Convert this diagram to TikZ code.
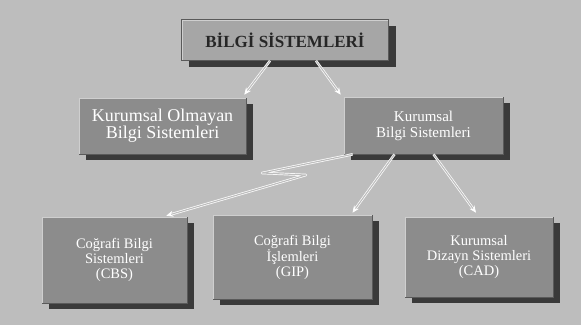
\documentclass[tikz,border=0pt]{standalone}
\usepackage{fontspec}
\setmainfont{Liberation Serif}
\usetikzlibrary{arrows.meta,shadows,calc}
\definecolor{bgc}{HTML}{BDBDBD}
\definecolor{boxc}{HTML}{8C8C8C}
\definecolor{topc}{HTML}{A6A6A6}
\definecolor{shadc}{HTML}{3A3A3A}
\definecolor{edgec}{HTML}{5A5A5A}
\definecolor{litc}{HTML}{CFCFCF}
\definecolor{titlec}{HTML}{262626}

\begin{document}
\begin{tikzpicture}[x=1pt,y=-1pt,
  panel/.style={rectangle, fill=boxc, draw=edgec, line width=0.6pt,
    text=white, align=center, inner sep=0pt,
    general shadow={shadow xshift=7pt, shadow yshift=-6pt, fill=shadc}},
  headpanel/.style={panel, fill=topc, text=titlec,
    font=\fontsize{17}{18}\selectfont\bfseries},
  midtext/.style={font=\fontsize{15}{16}\selectfont},
  lowtext/.style={font=\fontsize{14.5}{15}\selectfont},
  link/.style={draw=white, line width=0.7pt, double=bgc, double distance=1.1pt,
    line join=round, -{Stealth[length=7pt,width=6pt,fill=white]}},
  bevel/.style={draw=litc, line width=0.8pt}
]
% page and halftone background
\fill[white] (0,0) rectangle (586,330);
\fill[bgc] (0,0) rectangle (581,325);
\useasboundingbox (0,0) rectangle (586,330);

% boxes
\node[headpanel, minimum width=207pt, minimum height=41pt] (top) at (285,40)
  {BİLGİ SİSTEMLERİ};
\node[panel, minimum width=167pt, minimum height=56pt,
  font=\fontsize{18}{17}\selectfont] (olm) at (162.5,126)
  {Kurumsal Olmayan\\Bilgi Sistemleri};
\node[panel, midtext, minimum width=159pt, minimum height=57pt] (kb) at (423.5,125.5)
  {Kurumsal\\Bilgi Sistemleri};
\node[panel, lowtext, minimum width=145pt, minimum height=86pt] (cbs) at (114.5,260)
  {Coğrafi Bilgi\\Sistemleri\\(CBS)};
\node[panel, lowtext, minimum width=159pt, minimum height=84pt] (gip) at (292.5,257)
  {Coğrafi Bilgi\\İşlemleri\\(GIP)};
\node[panel, lowtext, minimum width=148pt, minimum height=80pt] (cad) at (479,257)
  {Kurumsal\\Dizayn Sistemleri\\(CAD)};

% light upper-left edge of each box
\foreach \n in {top,olm,kb,cbs,gip,cad}
  \draw[bevel] ([shift={(0.8pt,0.8pt)}]\n.south west) -- ([shift={(0.8pt,-0.8pt)}]\n.north west)
    -- ([shift={(-0.8pt,-0.8pt)}]\n.north east);

% connectors
\coordinate (z1) at (262,173);
\coordinate (z2) at (306,175);
\draw[link] ([xshift=-15pt]top.south) -- ([shift={(-2pt,3pt)}]olm.north east);
\draw[link] ([xshift=31pt]top.south) -- ([shift={(-3pt,2pt)}]kb.north west);
\draw[link] ([xshift=9pt]kb.south west) -- (z1) -- (z2) -- ([shift={(-21pt,1pt)}]cbs.north east);
\draw[link] ([xshift=-29pt]kb.south) -- ([shift={(60pt,2pt)}]gip.north);
\draw[link] ([xshift=10pt]kb.south) -- ([shift={(-3pt,4pt)}]cad.north);
\end{tikzpicture}
\end{document}
